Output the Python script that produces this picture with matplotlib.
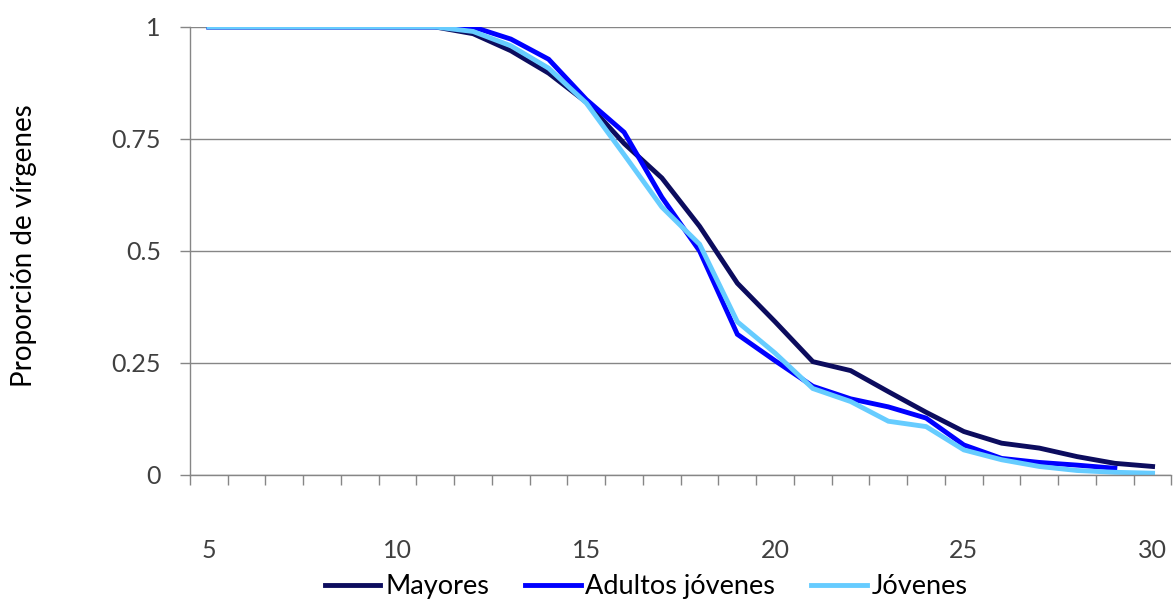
import matplotlib
matplotlib.use("Agg")
import matplotlib.pyplot as plt
from matplotlib.ticker import FixedLocator, NullFormatter

plt.rcParams["font.family"] = ["Lato", "DejaVu Sans"]

# ── Data ───────────────────────────────────────────────────────────────────────

EDAD = list(range(5, 31))

MAYORES = [1, 1, 1, 1, 1, 1, 1, 0.985, 0.947, 0.897, 0.832, 0.74, 0.663,
           0.555, 0.428, 0.342, 0.253, 0.233, 0.186, 0.14, 0.097, 0.071,
           0.06, 0.041, 0.026, 0.019]
ADULTOS_JOVENES = [1, 1, 1, 1, 1, 1, 1, 1.0, 0.973, 0.928, 0.838, 0.765, 0.62,
                   0.50, 0.314, 0.255, 0.198, 0.17, 0.152, 0.127, 0.067, 0.037,
                   0.028, 0.022, 0.015]
JOVENES = [1, 1, 1, 1, 1, 1, 1, 0.99, 0.958, 0.908, 0.83, 0.715, 0.598,
           0.515, 0.342, 0.272, 0.193, 0.164, 0.12, 0.108, 0.056, 0.034,
           0.019, 0.010, 0.006, 0.004]

SERIES = [
    ("Mayores",         MAYORES,         "#0c0c5e"),
    ("Adultos jóvenes", ADULTOS_JOVENES, "#0000ff"),
    ("Jóvenes",         JOVENES,         "#66ccff"),
]

Y_TICKS = [0, 0.25, 0.5, 0.75, 1]
Y_LABELS = ["0", "0.25", "0.5", "0.75", "1"]
X_LABELS = [5, 10, 15, 20, 25, 30]

AXIS_CLR = "#868686"
TEXT_CLR = "#404040"

# ── Figure ─────────────────────────────────────────────────────────────────────

fig = plt.figure(figsize=(11.75, 6.05), dpi=100)
ax = fig.add_axes([0.1617, 0.2149, 0.8353, 0.7405])

for name, vals, color in SERIES:
    ax.plot(EDAD[:len(vals)], vals, color=color, linewidth=3.5,
            solid_joinstyle="miter", label=name)

ax.set_xlim(4.5, 30.5)
ax.set_ylim(0, 1)

ax.set_yticks(Y_TICKS)
ax.set_yticklabels(Y_LABELS)
ax.yaxis.grid(True, color=AXIS_CLR, linewidth=1.0)
ax.set_axisbelow(True)

# category boundaries carry the tick marks; labels sit on the categories
ax.set_xticks(X_LABELS)
ax.set_xticklabels([str(v) for v in X_LABELS])
ax.xaxis.set_minor_locator(FixedLocator([v + 0.5 for v in range(4, 31)]))
ax.xaxis.set_minor_formatter(NullFormatter())
ax.tick_params(axis="x", which="major", length=0, pad=46)
ax.tick_params(axis="x", which="minor", length=7, width=1, color=AXIS_CLR)
ax.tick_params(axis="y", length=7, width=1, color=AXIS_CLR, pad=14)
ax.tick_params(labelsize=18, labelcolor=TEXT_CLR)

for side in ("top", "right"):
    ax.spines[side].set_visible(False)
for side in ("left", "bottom"):
    ax.spines[side].set_color(AXIS_CLR)
    ax.spines[side].set_linewidth(1.0)

ax.set_ylabel("Proporción de vírgenes", fontsize=20, color="black")
ax.yaxis.set_label_coords(-0.156, 0.513)

fig.legend(loc="center", bbox_to_anchor=(0.55, 0.03), ncol=3, frameon=False,
           fontsize=19.5, handlelength=2.05, handletextpad=0.18,
           columnspacing=1.33, labelcolor="black")

fig.savefig("out.png", dpi=100)
